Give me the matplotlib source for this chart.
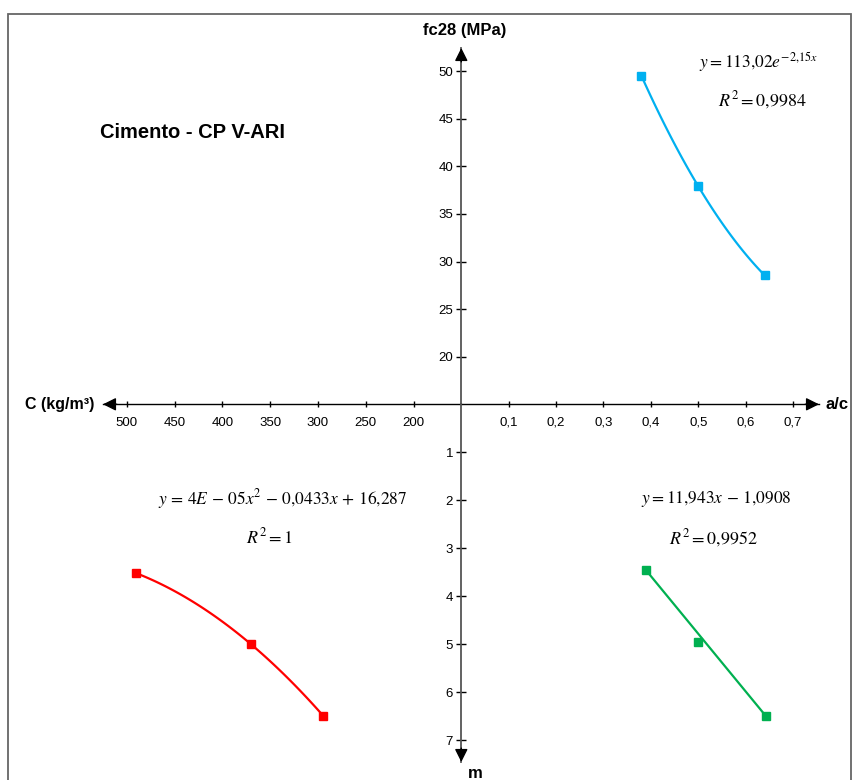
import numpy as np
import matplotlib
matplotlib.use('Agg')
import matplotlib.pyplot as plt
from matplotlib.patches import Rectangle
from matplotlib.ticker import FuncFormatter

plt.rcParams['font.family'] = ['Liberation Sans', 'DejaVu Sans']
plt.rcParams['mathtext.fontset'] = 'stix'

# dados lidos do gráfico
# fc28 x a/c (quadrante superior direito)
ac_fc = [0.38, 0.50, 0.64]
fc28 = [49.5, 37.9, 28.55]
# m x C (quadrante inferior esquerdo)
cimento = [490, 370, 294.5]
m_c = [3.52, 5.0, 6.49]
# m x a/c (quadrante inferior direito)
ac_m = [0.39, 0.50, 0.643]
m_ac = [3.46, 4.96, 6.5]

ac_ticks = [0.1, 0.2, 0.3, 0.4, 0.5, 0.6, 0.7]
fc_ticks = [20, 25, 30, 35, 40, 45, 50]
c_ticks = [200, 250, 300, 350, 400, 450, 500]
m_ticks = [1, 2, 3, 4, 5, 6, 7]

eq_fc = r'$y = 113{,}02e^{-2{,}15x}$'
r2_fc = r'$R^2 = 0{,}9984$'
eq_c = r'$y\, =\, 4E\, -\, 05x^2\, -\, 0{,}0433x\, +\, 16{,}287$'
r2_c = r'$R^2 = 1$'
eq_m = r'$y = 11{,}943x\, -\, 1{,}0908$'
r2_m = r'$R^2 = 0{,}9952$'

# layout em pixels
W, H = 853, 780
cx, cy = 461.3, 404.3
xl, xr, yt, yb = 103, 819, 48, 762
px_ac, px_c, px_fc, px_m = 474.0, 0.9556, 9.52, 48.0

ac_max = (xr - cx) / px_ac
c_min, c_max = 150, 150 + (cx - xl) / px_c
fc_min, fc_max = 15, 15 + (cy - yt) / px_fc
m_max = (yb - cy) / px_m


def rect(x0, y0, x1, y1):
    return [x0 / W, 1 - y1 / H, (x1 - x0) / W, (y1 - y0) / H]


def comma(v, pos):
    s = ('%g' % v)
    return s.replace('.', ',')


fig = plt.figure(figsize=(W / 100, H / 100), dpi=100)

ax_tr = fig.add_axes(rect(cx, yt, xr, cy))
ax_tl = fig.add_axes(rect(xl, yt, cx, cy))
ax_bl = fig.add_axes(rect(xl, cy, cx, yb))
ax_br = fig.add_axes(rect(cx, cy, xr, yb))

for ax in [ax_tr, ax_tl, ax_bl, ax_br]:
    ax.patch.set_visible(False)
    for s in ax.spines.values():
        s.set_visible(False)
    ax.set_xticks([])
    ax.set_yticks([])

ax_tr.set_xlim(0, ac_max)
ax_tr.set_ylim(fc_min, fc_max)
ax_tl.set_xlim(c_max, c_min)
ax_tl.set_ylim(fc_min, fc_max)
ax_bl.set_xlim(c_max, c_min)
ax_bl.set_ylim(m_max, 0)
ax_br.set_xlim(0, ac_max)
ax_br.set_ylim(m_max, 0)

# eixos
for ax in [ax_tr, ax_tl]:
    ax.spines['bottom'].set_visible(True)
    ax.spines['bottom'].set_color('black')
    ax.spines['bottom'].set_linewidth(1.0)
for ax in [ax_tr, ax_br]:
    ax.spines['left'].set_visible(True)
    ax.spines['left'].set_color('#555555')
    ax.spines['left'].set_linewidth(1.3)

ax_tr.set_xticks(ac_ticks)
ax_tr.xaxis.set_major_formatter(FuncFormatter(comma))
ax_tl.set_xticks(c_ticks)
for ax in [ax_tr, ax_tl]:
    ax.tick_params(axis='x', direction='inout', length=5, width=1, pad=6.5,
                   labelsize=9.5, colors='black')
ax_tr.set_yticks(fc_ticks)
ax_br.set_yticks(m_ticks)
for ax in [ax_tr, ax_br]:
    ax.tick_params(axis='y', direction='inout', length=7, width=1, pad=2.5,
                   labelsize=9.5, colors='black')

arrow = dict(arrowstyle='-|>,head_length=0.6,head_width=0.3', color='black',
             lw=1, shrinkA=0, shrinkB=0, mutation_scale=13)
ax_tr.annotate('', xy=(1, 0), xycoords='axes fraction', xytext=(-10, 0),
               textcoords='offset points', arrowprops=arrow)
ax_tl.annotate('', xy=(0, 0), xycoords='axes fraction', xytext=(10, 0),
               textcoords='offset points', arrowprops=arrow)
ax_tr.annotate('', xy=(0, 1), xycoords='axes fraction', xytext=(0, -10),
               textcoords='offset points', arrowprops=arrow)
ax_br.annotate('', xy=(0, 0), xycoords='axes fraction', xytext=(0, 10),
               textcoords='offset points', arrowprops=arrow)

# curvas
xs = np.linspace(ac_fc[0], ac_fc[-1], 100)
ax_tr.plot(xs, np.polyval(np.polyfit(ac_fc, fc28, 2), xs), color='#00B0F0', lw=1.6)
ax_tr.plot(ac_fc, fc28, 's', color='#00B0F0', ms=5.5)

cs = np.linspace(cimento[0], cimento[-1], 100)
ax_bl.plot(cs, np.polyval(np.polyfit(cimento, m_c, 2), cs), color='#FF0000', lw=1.6)
ax_bl.plot(cimento, m_c, 's', color='#FF0000', ms=5.5)

ax_br.plot([ac_m[0], ac_m[-1]], [m_ac[0], m_ac[-1]], color='#00B050', lw=1.6)
ax_br.plot(ac_m, m_ac, 's', color='#00B050', ms=5.5)


def ftext(x, y, s, **kw):
    fig.text(x / W, 1 - y / H, s, ha='center', va='center', **kw)


ftext(465, 30, 'fc28 (MPa)', fontsize=12, fontweight='bold')
ftext(193, 132, 'Cimento - CP V-ARI', fontsize=14.5, fontweight='bold')
ftext(60, 404, 'C (kg/m³)', fontsize=11.5, fontweight='bold')
ftext(837, 404, 'a/c', fontsize=12, fontweight='bold')
ftext(475, 773, 'm', fontsize=12, fontweight='bold')

ftext(758, 62, eq_fc, fontsize=12.5)
ftext(762, 100, r2_fc, fontsize=13)
ftext(283, 499, eq_c, fontsize=12.5)
ftext(270, 537, r2_c, fontsize=13)
ftext(716, 499, eq_m, fontsize=12.5)
ftext(713, 538, r2_m, fontsize=13)

fig.add_artist(Rectangle((8 / W, -0.05), (851 - 8) / W, 1.05 - 14 / H,
                         transform=fig.transFigure, fill=False,
                         edgecolor='#666666', lw=1.3))

fig.savefig('out.png', dpi=100)
